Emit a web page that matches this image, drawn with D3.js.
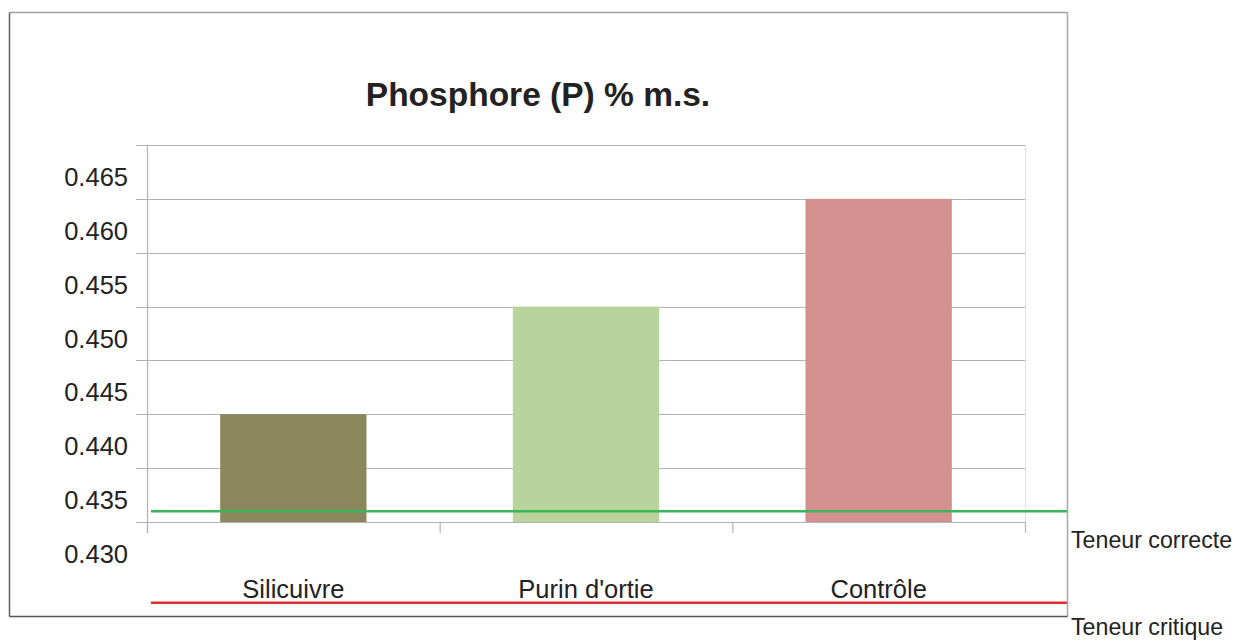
<!DOCTYPE html>
<html>
<head>
<meta charset="utf-8">
<script src="https://cdn.jsdelivr.net/npm/d3@7"></script>
<style>
  body { margin: 0; background: #fff; }
  text { font-family: "Liberation Sans", Arial, sans-serif; fill: #222; }
</style>
</head>
<body>
<div id="chart"></div>
<script>
// data
var categories = ["Silicuivre", "Purin d'ortie", "Contrôle"];
var values = [0.440, 0.450, 0.460];
var barColors = ["#8b865c", "#b8d39b", "#d48f8f"];
var tickValues = [0.430, 0.435, 0.440, 0.445, 0.450, 0.455, 0.460, 0.465];
var refNames = ["Teneur correcte", "Teneur critique"];
var refValues = [0.431, 0.4225];
var refColors = ["#3cb55a", "#d9322f"];

var W = 1237, H = 641;
var plot = {left: 147, right: 1025, top: 145, bottom: 522};

var svg = d3.select("#chart").append("svg")
    .attr("width", W)
    .attr("height", H);

var x = d3.scaleBand()
    .domain(categories)
    .range([plot.left, plot.right])
    .paddingInner(0.5)
    .paddingOuter(0.25);

var y = d3.scaleLinear()
    .domain([0.430, 0.465])
    .range([plot.bottom, plot.top]);

// outer frame
svg.append("line").attr("x1", 9.5).attr("x2", 1067.5).attr("y1", 12.5).attr("y2", 12.5)
  .style("stroke", "#a0a0a0").style("stroke-width", 1.5);
svg.append("line").attr("x1", 1067.5).attr("x2", 1067.5).attr("y1", 12.5).attr("y2", 616.5)
  .style("stroke", "#a8a8a8").style("stroke-width", 1.5);
svg.append("line").attr("x1", 9.5).attr("x2", 9.5).attr("y1", 12.5).attr("y2", 616.5)
  .style("stroke", "#606060").style("stroke-width", 1.5);
svg.append("line").attr("x1", 9.5).attr("x2", 1067.5).attr("y1", 616.5).attr("y2", 616.5)
  .style("stroke", "#555").style("stroke-width", 1.5);

// title
svg.append("text")
  .attr("x", 538)
  .attr("y", 106)
  .attr("text-anchor", "middle")
  .style("font-size", "33.5px")
  .style("font-weight", "bold")
  .text("Phosphore (P) % m.s.");

// gridlines
svg.append("g")
  .selectAll("line")
  .data(tickValues)
  .enter()
  .append("line")
    .attr("x1", plot.left - 11)
    .attr("x2", plot.right + 1)
    .attr("y1", function(d) { return Math.round(y(d)) + 0.5; })
    .attr("y2", function(d) { return Math.round(y(d)) + 0.5; })
    .style("stroke", "#b3b3b3")
    .style("stroke-width", 1.2);

// right light border of plot
svg.append("line")
  .attr("x1", plot.right + 0.5).attr("x2", plot.right + 0.5)
  .attr("y1", plot.top).attr("y2", plot.bottom)
  .style("stroke", "#e0e0e0");

// y axis labels (drawn below their gridline as in the original)
svg.append("g")
  .selectAll("text")
  .data(tickValues)
  .enter()
  .append("text")
    .attr("x", 128)
    .attr("y", function(d) { return y(d) + 41; })
    .attr("text-anchor", "end")
    .style("font-size", "25.5px")
    .text(function(d) { return d3.format(".3f")(d); });

// y axis line
svg.append("line")
  .attr("x1", plot.left + 0.5).attr("x2", plot.left + 0.5)
  .attr("y1", plot.top).attr("y2", plot.bottom + 11)
  .style("stroke", "#b3b3b3").style("stroke-width", 1.2);

// x category ticks
svg.append("g")
  .selectAll("line")
  .data(categories.concat([null]))
  .enter()
  .append("line")
    .attr("x1", function(d, i) { return plot.left + i * x.step() + 0.5; })
    .attr("x2", function(d, i) { return plot.left + i * x.step() + 0.5; })
    .attr("y1", plot.bottom)
    .attr("y2", plot.bottom + 11)
    .style("stroke", "#b3b3b3").style("stroke-width", 1.2);

// bars
svg.append("g")
  .selectAll("rect")
  .data(values)
  .enter()
  .append("rect")
    .attr("x", function(d, i) { return x(categories[i]); })
    .attr("y", function(d) { return y(d); })
    .attr("width", x.bandwidth())
    .attr("height", function(d) { return y(0.430) - y(d); })
    .style("fill", function(d, i) { return barColors[i]; });

// category labels
svg.append("g")
  .selectAll("text")
  .data(categories)
  .enter()
  .append("text")
    .attr("x", function(d) { return x(d) + x.bandwidth() / 2; })
    .attr("y", 598)
    .attr("text-anchor", "middle")
    .style("font-size", "25.5px")
    .text(function(d) { return d; });

// reference lines
svg.append("g")
  .selectAll("line")
  .data(refValues)
  .enter()
  .append("line")
    .attr("x1", 151)
    .attr("x2", 1067)
    .attr("y1", function(d) { return y(d); })
    .attr("y2", function(d) { return y(d); })
    .style("stroke", function(d, i) { return refColors[i]; })
    .style("stroke-width", 2.5);

svg.append("g")
  .selectAll("text")
  .data(refNames)
  .enter()
  .append("text")
    .attr("x", 1071)
    .attr("y", function(d, i) { return [548, 635][i]; })
    .style("font-size", "23.2px")
    .text(function(d) { return d; });
</script>
</body>
</html>
